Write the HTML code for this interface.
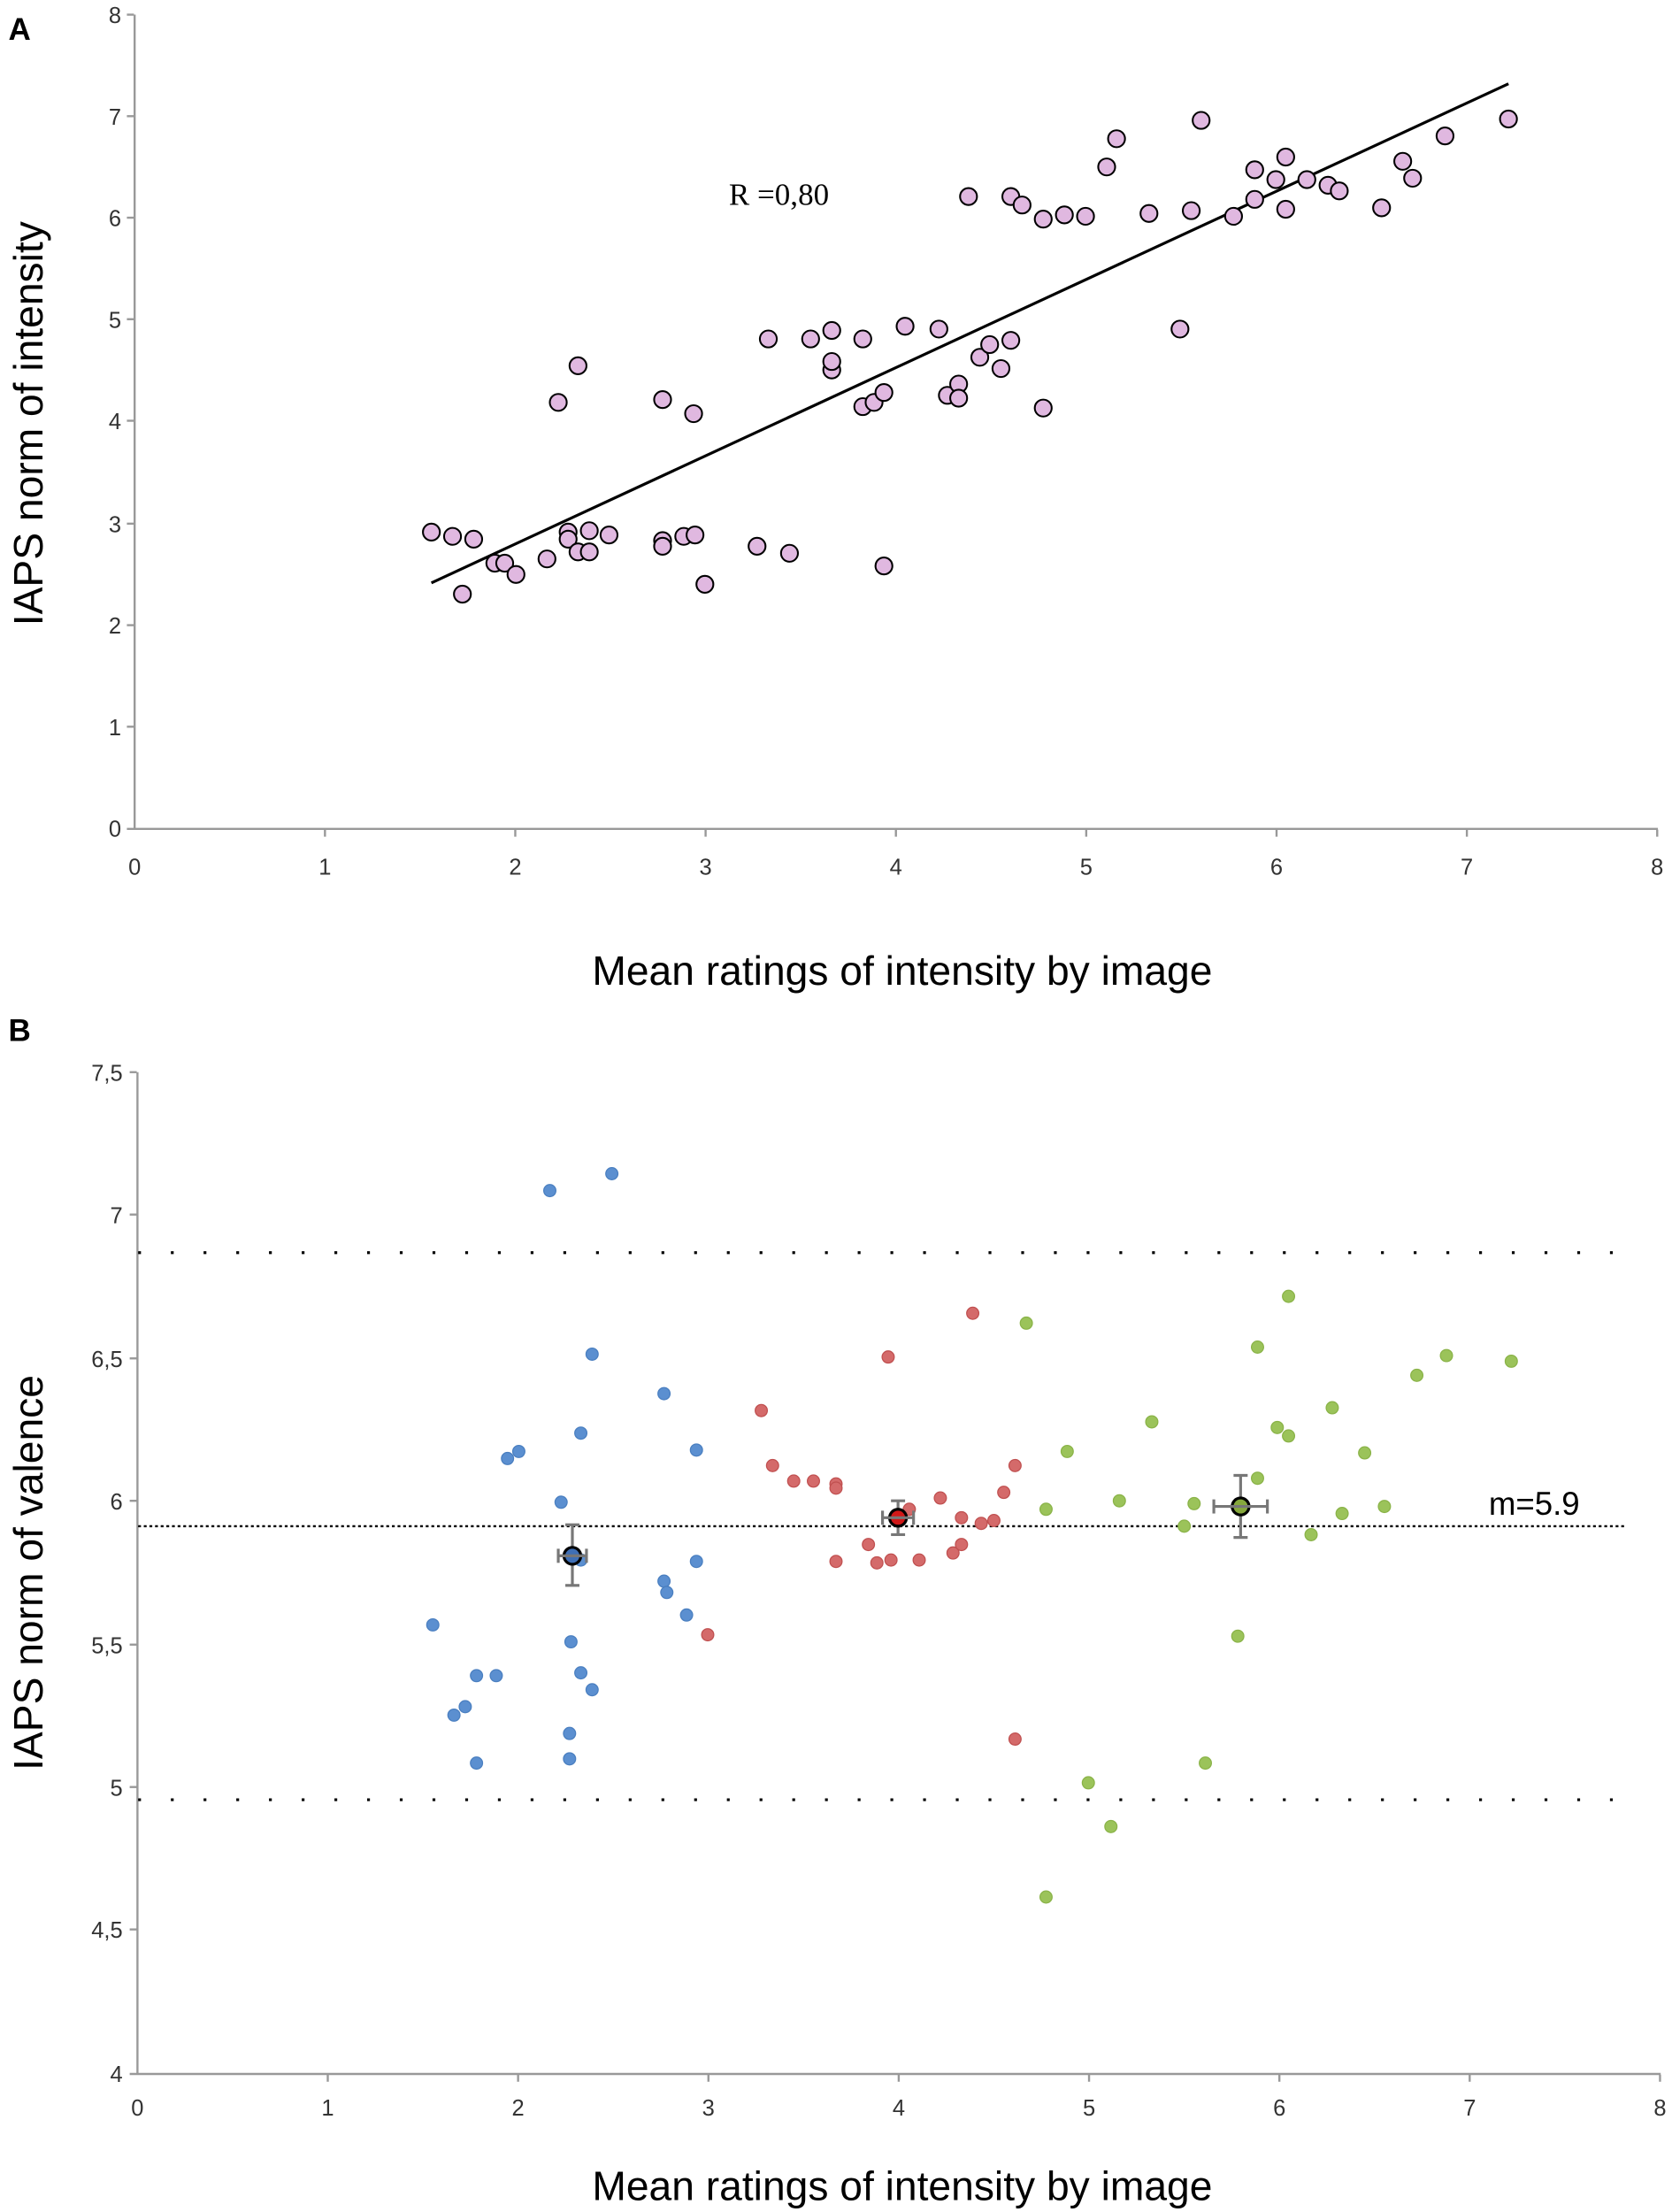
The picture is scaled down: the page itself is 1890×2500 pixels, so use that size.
<!DOCTYPE html>
<html><head><meta charset="utf-8"><style>html,body{margin:0;padding:0;background:#fff}svg{display:block}</style></head>
<body>
<svg width="1890" height="2500" viewBox="0 0 1186 1568" xmlns="http://www.w3.org/2000/svg" font-family="Liberation Sans, sans-serif">
<rect width="1186" height="1568" fill="#fff"/>
<!-- Panel A -->
<text x="6" y="28" font-size="22" font-weight="bold">A</text>
<g stroke="#999" stroke-width="1.5">
<line x1="95.5" y1="10" x2="95.5" y2="588"/>
<line x1="90" y1="587.5" x2="1176" y2="587.5"/>
<line x1="90" y1="10" x2="95" y2="10"/><line x1="90" y1="82" x2="95" y2="82"/><line x1="90" y1="154" x2="95" y2="154"/><line x1="90" y1="226" x2="95" y2="226"/><line x1="90" y1="298" x2="95" y2="298"/><line x1="90" y1="371" x2="95" y2="371"/><line x1="90" y1="443" x2="95" y2="443"/><line x1="90" y1="515" x2="95" y2="515"/>
<line x1="230.5" y1="588" x2="230.5" y2="593"/><line x1="365.5" y1="588" x2="365.5" y2="593"/><line x1="500.5" y1="588" x2="500.5" y2="593"/><line x1="635.5" y1="588" x2="635.5" y2="593"/><line x1="770.5" y1="588" x2="770.5" y2="593"/><line x1="905.5" y1="588" x2="905.5" y2="593"/><line x1="1040.5" y1="588" x2="1040.5" y2="593"/><line x1="1175.5" y1="588" x2="1175.5" y2="593"/>
</g>
<g font-size="16" fill="#333" text-anchor="end">
<text x="86" y="16">8</text><text x="86" y="88">7</text><text x="86" y="160">6</text><text x="86" y="232">5</text><text x="86" y="304">4</text><text x="86" y="377">3</text><text x="86" y="449">2</text><text x="86" y="521">1</text><text x="86" y="593">0</text>
</g>
<g font-size="16" fill="#333" text-anchor="middle">
<text x="95.5" y="620">0</text><text x="230.5" y="620">1</text><text x="365.5" y="620">2</text><text x="500.5" y="620">3</text><text x="635.5" y="620">4</text><text x="770.5" y="620">5</text><text x="905.5" y="620">6</text><text x="1040.5" y="620">7</text><text x="1175.5" y="620">8</text>
</g>
<text transform="translate(30,300) rotate(-90)" font-size="29" text-anchor="middle" font-family="Liberation Sans Narrow, Liberation Sans, sans-serif">IAPS norm of intensity</text>
<text x="640" y="698" font-size="29" text-anchor="middle" font-family="Liberation Sans Narrow, Liberation Sans, sans-serif">Mean ratings of intensity by image</text>
<text x="517" y="145" font-size="22" font-family="Liberation Serif, serif">R =0,80</text>
<line x1="306" y1="413" x2="1070" y2="59" stroke="#000" stroke-width="2"/>
<g fill="#e0b8e0" stroke="#000" stroke-width="1.3">
<circle cx="306" cy="377" r="6"/><circle cx="321" cy="380" r="6"/><circle cx="336" cy="382" r="6"/><circle cx="351" cy="399" r="6"/><circle cx="358" cy="399" r="6"/><circle cx="328" cy="421" r="6"/><circle cx="366" cy="407" r="6"/><circle cx="388" cy="396" r="6"/><circle cx="396" cy="285" r="6"/><circle cx="403" cy="377" r="6"/><circle cx="410" cy="259" r="6"/><circle cx="403" cy="382" r="6"/><circle cx="410" cy="391" r="6"/><circle cx="418" cy="376" r="6"/><circle cx="418" cy="391" r="6"/><circle cx="432" cy="379" r="6"/><circle cx="470" cy="283" r="6"/><circle cx="470" cy="383" r="6"/><circle cx="470" cy="387" r="6"/><circle cx="485" cy="380" r="6"/><circle cx="492" cy="293" r="6"/><circle cx="493" cy="379" r="6"/><circle cx="500" cy="414" r="6"/><circle cx="537" cy="387" r="6"/><circle cx="545" cy="240" r="6"/><circle cx="560" cy="392" r="6"/><circle cx="575" cy="240" r="6"/><circle cx="590" cy="262" r="6"/><circle cx="590" cy="256" r="6"/><circle cx="590" cy="234" r="6"/><circle cx="612" cy="240" r="6"/><circle cx="612" cy="288" r="6"/><circle cx="620" cy="285" r="6"/><circle cx="627" cy="401" r="6"/><circle cx="627" cy="278" r="6"/><circle cx="642" cy="231" r="6"/><circle cx="666" cy="233" r="6"/><circle cx="672" cy="280" r="6"/><circle cx="680" cy="272" r="6"/><circle cx="680" cy="282" r="6"/><circle cx="687" cy="139" r="6"/><circle cx="695" cy="253" r="6"/><circle cx="702" cy="244" r="6"/><circle cx="710" cy="261" r="6"/><circle cx="717" cy="139" r="6"/><circle cx="717" cy="241" r="6"/><circle cx="725" cy="145" r="6"/><circle cx="740" cy="155" r="6"/><circle cx="740" cy="289" r="6"/><circle cx="755" cy="152" r="6"/><circle cx="770" cy="153" r="6"/><circle cx="785" cy="118" r="6"/><circle cx="792" cy="98" r="6"/><circle cx="815" cy="151" r="6"/><circle cx="837" cy="233" r="6"/><circle cx="845" cy="149" r="6"/><circle cx="852" cy="85" r="6"/><circle cx="875" cy="153" r="6"/><circle cx="890" cy="120" r="6"/><circle cx="890" cy="141" r="6"/><circle cx="905" cy="127" r="6"/><circle cx="912" cy="148" r="6"/><circle cx="912" cy="111" r="6"/><circle cx="927" cy="127" r="6"/><circle cx="942" cy="131" r="6"/><circle cx="950" cy="135" r="6"/><circle cx="980" cy="147" r="6"/><circle cx="995" cy="114" r="6"/><circle cx="1002" cy="126" r="6"/><circle cx="1025" cy="96" r="6"/><circle cx="1070" cy="84" r="6"/>
</g>
<!-- Panel B -->
<text x="6" y="738" font-size="22" font-weight="bold">B</text>
<g stroke="#999" stroke-width="1.5">
<line x1="97.5" y1="760" x2="97.5" y2="1471"/>
<line x1="92" y1="1470.5" x2="1178" y2="1470.5"/>
<line x1="92" y1="760" x2="97" y2="760"/><line x1="92" y1="861" x2="97" y2="861"/><line x1="92" y1="963" x2="97" y2="963"/><line x1="92" y1="1064" x2="97" y2="1064"/><line x1="92" y1="1166" x2="97" y2="1166"/><line x1="92" y1="1267" x2="97" y2="1267"/><line x1="92" y1="1368" x2="97" y2="1368"/>
<line x1="232.5" y1="1471" x2="232.5" y2="1476"/><line x1="367.5" y1="1471" x2="367.5" y2="1476"/><line x1="502.5" y1="1471" x2="502.5" y2="1476"/><line x1="637.5" y1="1471" x2="637.5" y2="1476"/><line x1="772.5" y1="1471" x2="772.5" y2="1476"/><line x1="907.5" y1="1471" x2="907.5" y2="1476"/><line x1="1042.5" y1="1471" x2="1042.5" y2="1476"/><line x1="1177.5" y1="1471" x2="1177.5" y2="1476"/>
</g>
<g font-size="16" fill="#333" text-anchor="end">
<text x="87" y="766">7,5</text><text x="87" y="867">7</text><text x="87" y="969">6,5</text><text x="87" y="1070">6</text><text x="87" y="1172">5,5</text><text x="87" y="1273">5</text><text x="87" y="1374">4,5</text><text x="87" y="1476">4</text>
</g>
<g font-size="16" fill="#333" text-anchor="middle">
<text x="97.5" y="1500">0</text><text x="232.5" y="1500">1</text><text x="367.5" y="1500">2</text><text x="502.5" y="1500">3</text><text x="637.5" y="1500">4</text><text x="772.5" y="1500">5</text><text x="907.5" y="1500">6</text><text x="1042.5" y="1500">7</text><text x="1177.5" y="1500">8</text>
</g>
<text transform="translate(30,1115) rotate(-90)" font-size="29" text-anchor="middle" font-family="Liberation Sans Narrow, Liberation Sans, sans-serif">IAPS norm of valence</text>
<text x="640" y="1560" font-size="29" text-anchor="middle" font-family="Liberation Sans Narrow, Liberation Sans, sans-serif">Mean ratings of intensity by image</text>
<line x1="98" y1="888" x2="1160" y2="888" stroke="#000" stroke-width="2" stroke-dasharray="2,21.2"/>
<line x1="98" y1="1276" x2="1160" y2="1276" stroke="#000" stroke-width="2" stroke-dasharray="2,21.2"/>
<line x1="98" y1="1082" x2="1152" y2="1082" stroke="#000" stroke-width="1.5" stroke-dasharray="2,2"/>
<text x="1056" y="1074" font-size="23">m=5.9</text>
<g fill="#5b8fd0" stroke="#4a7fc0" stroke-width="0.8">
<circle cx="390" cy="844" r="4.3"/><circle cx="434" cy="832" r="4.3"/><circle cx="360" cy="1034" r="4.3"/><circle cx="368" cy="1029" r="4.3"/><circle cx="420" cy="960" r="4.3"/><circle cx="412" cy="1016" r="4.3"/><circle cx="398" cy="1065" r="4.3"/><circle cx="471" cy="988" r="4.3"/><circle cx="494" cy="1028" r="4.3"/><circle cx="307" cy="1152" r="4.3"/><circle cx="322" cy="1216" r="4.3"/><circle cx="330" cy="1210" r="4.3"/><circle cx="338" cy="1188" r="4.3"/><circle cx="352" cy="1188" r="4.3"/><circle cx="338" cy="1250" r="4.3"/><circle cx="405" cy="1164" r="4.3"/><circle cx="404" cy="1229" r="4.3"/><circle cx="404" cy="1247" r="4.3"/><circle cx="412" cy="1186" r="4.3"/><circle cx="412" cy="1106" r="4.3"/><circle cx="420" cy="1198" r="4.3"/><circle cx="471" cy="1121" r="4.3"/><circle cx="473" cy="1129" r="4.3"/><circle cx="487" cy="1145" r="4.3"/><circle cx="494" cy="1107" r="4.3"/>
</g>
<g fill="#d46a6a" stroke="#c05050" stroke-width="0.8">
<circle cx="540" cy="1000" r="4.3"/><circle cx="548" cy="1039" r="4.3"/><circle cx="563" cy="1050" r="4.3"/><circle cx="577" cy="1050" r="4.3"/><circle cx="593" cy="1052" r="4.3"/><circle cx="593" cy="1055" r="4.3"/><circle cx="630" cy="962" r="4.3"/><circle cx="690" cy="931" r="4.3"/><circle cx="667" cy="1062" r="4.3"/><circle cx="682" cy="1076" r="4.3"/><circle cx="712" cy="1058" r="4.3"/><circle cx="720" cy="1039" r="4.3"/><circle cx="645" cy="1070" r="4.3"/><circle cx="616" cy="1095" r="4.3"/><circle cx="632" cy="1106" r="4.3"/><circle cx="652" cy="1106" r="4.3"/><circle cx="696" cy="1080" r="4.3"/><circle cx="676" cy="1101" r="4.3"/><circle cx="682" cy="1095" r="4.3"/><circle cx="705" cy="1078" r="4.3"/><circle cx="720" cy="1233" r="4.3"/><circle cx="502" cy="1159" r="4.3"/><circle cx="593" cy="1107" r="4.3"/><circle cx="622" cy="1108" r="4.3"/>
</g>
<g fill="#9bc35a" stroke="#8ab348" stroke-width="0.8">
<circle cx="728" cy="938" r="4.3"/><circle cx="757" cy="1029" r="4.3"/><circle cx="742" cy="1070" r="4.3"/><circle cx="794" cy="1064" r="4.3"/><circle cx="817" cy="1008" r="4.3"/><circle cx="847" cy="1066" r="4.3"/><circle cx="840" cy="1082" r="4.3"/><circle cx="878" cy="1160" r="4.3"/><circle cx="892" cy="955" r="4.3"/><circle cx="892" cy="1048" r="4.3"/><circle cx="906" cy="1012" r="4.3"/><circle cx="914" cy="1018" r="4.3"/><circle cx="914" cy="919" r="4.3"/><circle cx="930" cy="1088" r="4.3"/><circle cx="945" cy="998" r="4.3"/><circle cx="952" cy="1073" r="4.3"/><circle cx="982" cy="1068" r="4.3"/><circle cx="968" cy="1030" r="4.3"/><circle cx="1005" cy="975" r="4.3"/><circle cx="1026" cy="961" r="4.3"/><circle cx="1072" cy="965" r="4.3"/><circle cx="772" cy="1264" r="4.3"/><circle cx="788" cy="1295" r="4.3"/><circle cx="742" cy="1345" r="4.3"/><circle cx="855" cy="1250" r="4.3"/>
</g>
<g stroke="#777" stroke-width="2">
<line x1="406" y1="1081" x2="406" y2="1124"/><line x1="401" y1="1081" x2="411" y2="1081"/><line x1="401" y1="1124" x2="411" y2="1124"/>
<line x1="396" y1="1103" x2="416" y2="1103"/><line x1="396" y1="1098" x2="396" y2="1108"/><line x1="416" y1="1098" x2="416" y2="1108"/>
<line x1="637" y1="1064" x2="637" y2="1088"/><line x1="632" y1="1064" x2="642" y2="1064"/><line x1="632" y1="1088" x2="642" y2="1088"/>
<line x1="626" y1="1076" x2="648" y2="1076"/><line x1="626" y1="1071" x2="626" y2="1081"/><line x1="648" y1="1071" x2="648" y2="1081"/>
<line x1="880" y1="1046" x2="880" y2="1090"/><line x1="875" y1="1046" x2="885" y2="1046"/><line x1="875" y1="1090" x2="885" y2="1090"/>
<line x1="861" y1="1068" x2="899" y2="1068"/><line x1="861" y1="1063" x2="861" y2="1073"/><line x1="899" y1="1063" x2="899" y2="1073"/>
</g>
<circle cx="406" cy="1103" r="6" fill="#3f6fb5" stroke="#000" stroke-width="2"/>
<circle cx="637" cy="1076" r="6" fill="#d01818" stroke="#000" stroke-width="2"/>
<circle cx="880" cy="1068" r="6" fill="#86a83c" stroke="#000" stroke-width="2"/>
<g stroke="#777" stroke-width="2">
<line x1="398" y1="1103" x2="414" y2="1103"/><line x1="629" y1="1076" x2="645" y2="1076"/><line x1="872" y1="1068" x2="888" y2="1068"/>
</g>
</svg>
</body></html>
